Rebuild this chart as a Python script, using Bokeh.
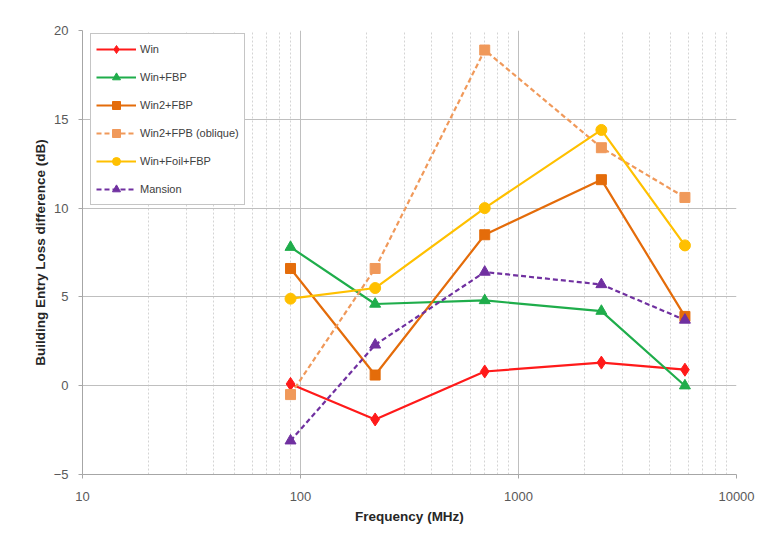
from bokeh.plotting import figure
from bokeh.models import (FixedTicker, NumeralTickFormatter, Legend, LegendItem)
from bokeh.embed import file_html
from bokeh.resources import INLINE

# Measurement frequencies (MHz)
freq = [90, 220, 700, 2400, 5800]

# Building entry loss difference (dB) per configuration
win = [0.1, -1.9, 0.8, 1.3, 0.9]
win_fbp = [7.8, 4.6, 4.8, 4.2, 0.0]
win2_fbp = [6.6, 0.6, 8.5, 11.6, 3.9]
win2_fpb_oblique = [-0.5, 6.6, 18.9, 13.4, 10.6]
win_foil_fbp = [4.9, 5.5, 10.0, 14.4, 7.9]
mansion = [-3.1, 2.3, 6.4, 5.7, 3.7]

x_major = [10, 100, 1000, 10000]
y_major = [-5, 0, 5, 10, 15, 20]

FONT = "Liberation Sans"

p = figure(width=761, height=540, x_axis_type="log",
           x_range=(10, 10000), y_range=(-5, 20),
           output_backend="svg", toolbar_location=None,
           min_border_left=82, min_border_right=25,
           min_border_top=30, min_border_bottom=66)
p.outline_line_color = None
p.background_fill_color = "white"
p.border_fill_color = "white"

minor = [m * d for d in (10, 100, 1000) for m in range(2, 10)]
p.xaxis.ticker = FixedTicker(ticks=x_major, minor_ticks=minor)
p.xaxis.formatter = NumeralTickFormatter(format="0")
p.yaxis.ticker = FixedTicker(ticks=y_major)

for ax in (p.xaxis[0], p.yaxis[0]):
    ax.axis_line_color = "#a6a6a6"
    ax.major_tick_line_color = "#a6a6a6"
    ax.major_tick_out = 4
    ax.major_tick_in = 0
    ax.minor_tick_out = 0
    ax.minor_tick_in = 0
    ax.major_label_text_font = FONT
    ax.major_label_text_font_size = "13px"
    ax.major_label_text_color = "#595959"
    ax.axis_label_text_font = FONT
    ax.axis_label_text_font_size = "13.5px"
    ax.axis_label_text_font_style = "bold"
    ax.axis_label_text_color = "#262626"

p.xaxis.axis_label = "Frequency (MHz)"
p.xaxis.major_label_standoff = 13
p.xaxis.axis_label_standoff = 5
p.yaxis.axis_label = "Building Entry Loss difference (dB)"
p.yaxis.major_label_standoff = 10
p.yaxis.axis_label_standoff = 3

p.xgrid.grid_line_color = "#bfbfbf"
p.xgrid.minor_grid_line_color = "#d4d4d4"
p.xgrid.minor_grid_line_dash = "2 2"
p.ygrid.grid_line_color = "#bfbfbf"

series = [
    ("Win", win, "#ff1a1a", "diamond", 13, None),
    ("Win+FBP", win_fbp, "#1fad4b", "triangle", 11, None),
    ("Win2+FBP", win2_fbp, "#e46c0a", "square", 10, None),
    ("Win2+FPB (oblique)", win2_fpb_oblique, "#f0995a", "square", 10, "5 3"),
    ("Win+Foil+FBP", win_foil_fbp, "#ffc000", "circle", 11, None),
    ("Mansion", mansion, "#7030a0", "triangle", 11, "5 3"),
]

items = []
for name, vals, color, marker, size, dash in series:
    line = p.line(freq, vals, line_color=color, line_width=2.2,
                  line_dash=dash if dash else "solid")
    pts = p.scatter(freq, vals, marker=marker, size=size,
                    fill_color=color, line_color=color)
    items.append(LegendItem(label=name, renderers=[line, pts]))

legend = Legend(items=items, location=(8, 269),
                glyph_width=40, glyph_height=20, label_height=20,
                spacing=8, padding=5, margin=0, label_standoff=4,
                label_text_font=FONT, label_text_font_size="11px",
                label_text_color="#404040",
                border_line_color="#8c8c8c", border_line_width=1,
                background_fill_color="white", background_fill_alpha=1)
p.add_layout(legend, "center")

open("out.html", "w").write(file_html(p, INLINE))
